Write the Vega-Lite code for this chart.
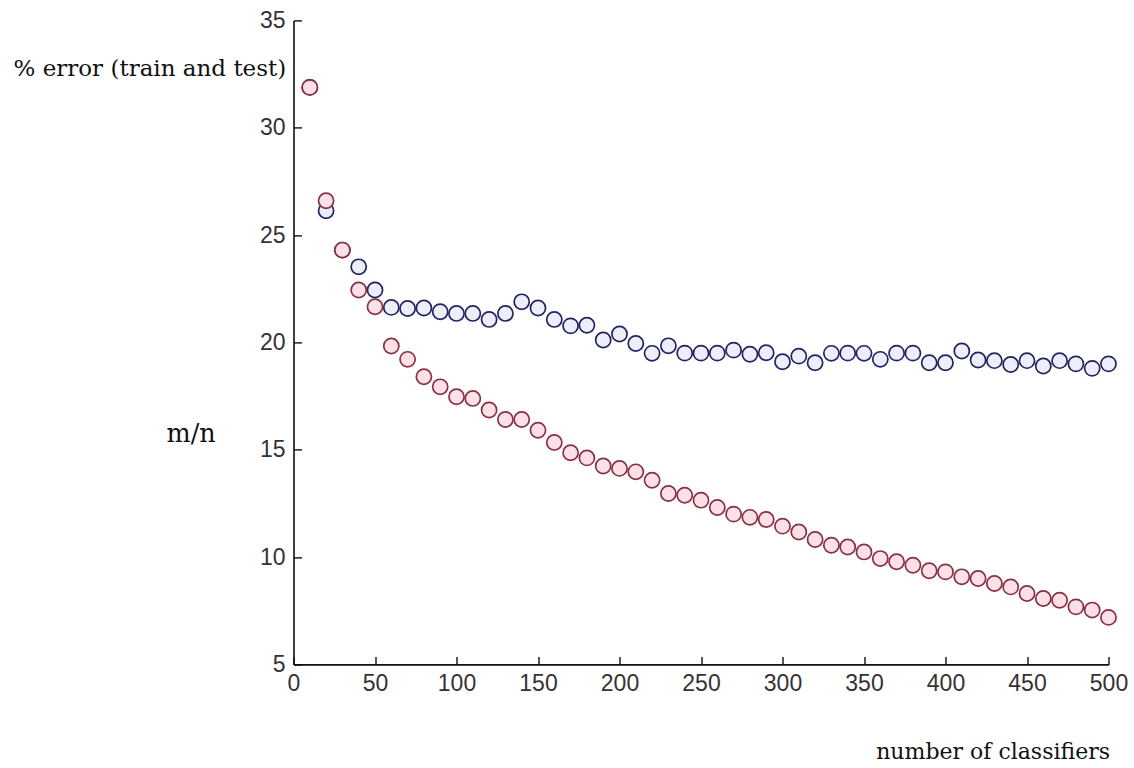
{
  "$schema": "https://vega.github.io/schema/vega-lite/v6.json",
  "autosize": "none",
  "width": 815,
  "height": 644,
  "padding": {"left": 293.5, "top": 20.4, "right": 25.5, "bottom": 103.6},
  "background": "white",
  "config": {
    "view": {"stroke": null},
    "axis": {"grid": false}
  },
  "data": {
    "values": [
      {"n": 10, "series": "test", "err": 31.88},
      {"n": 20, "series": "test", "err": 26.13},
      {"n": 30, "series": "test", "err": 24.3},
      {"n": 40, "series": "test", "err": 23.52},
      {"n": 50, "series": "test", "err": 22.44},
      {"n": 60, "series": "test", "err": 21.63},
      {"n": 70, "series": "test", "err": 21.58},
      {"n": 80, "series": "test", "err": 21.6},
      {"n": 90, "series": "test", "err": 21.43},
      {"n": 100, "series": "test", "err": 21.35},
      {"n": 110, "series": "test", "err": 21.35},
      {"n": 120, "series": "test", "err": 21.07},
      {"n": 130, "series": "test", "err": 21.35},
      {"n": 140, "series": "test", "err": 21.89},
      {"n": 150, "series": "test", "err": 21.6},
      {"n": 160, "series": "test", "err": 21.07},
      {"n": 170, "series": "test", "err": 20.77},
      {"n": 180, "series": "test", "err": 20.8},
      {"n": 190, "series": "test", "err": 20.11},
      {"n": 200, "series": "test", "err": 20.39},
      {"n": 210, "series": "test", "err": 19.95},
      {"n": 220, "series": "test", "err": 19.49},
      {"n": 230, "series": "test", "err": 19.84},
      {"n": 240, "series": "test", "err": 19.5},
      {"n": 250, "series": "test", "err": 19.5},
      {"n": 260, "series": "test", "err": 19.5},
      {"n": 270, "series": "test", "err": 19.64},
      {"n": 280, "series": "test", "err": 19.45},
      {"n": 290, "series": "test", "err": 19.52},
      {"n": 300, "series": "test", "err": 19.1},
      {"n": 310, "series": "test", "err": 19.36},
      {"n": 320, "series": "test", "err": 19.05},
      {"n": 330, "series": "test", "err": 19.49},
      {"n": 340, "series": "test", "err": 19.5},
      {"n": 350, "series": "test", "err": 19.49},
      {"n": 360, "series": "test", "err": 19.21},
      {"n": 370, "series": "test", "err": 19.5},
      {"n": 380, "series": "test", "err": 19.5},
      {"n": 390, "series": "test", "err": 19.05},
      {"n": 400, "series": "test", "err": 19.05},
      {"n": 410, "series": "test", "err": 19.6},
      {"n": 420, "series": "test", "err": 19.18},
      {"n": 430, "series": "test", "err": 19.15},
      {"n": 440, "series": "test", "err": 18.97},
      {"n": 450, "series": "test", "err": 19.15},
      {"n": 460, "series": "test", "err": 18.9},
      {"n": 470, "series": "test", "err": 19.15},
      {"n": 480, "series": "test", "err": 19.0},
      {"n": 490, "series": "test", "err": 18.79},
      {"n": 500, "series": "test", "err": 19.0},
      {"n": 10, "series": "train", "err": 31.88},
      {"n": 20, "series": "train", "err": 26.6},
      {"n": 30, "series": "train", "err": 24.3},
      {"n": 40, "series": "train", "err": 22.44},
      {"n": 50, "series": "train", "err": 21.66},
      {"n": 60, "series": "train", "err": 19.83},
      {"n": 70, "series": "train", "err": 19.21},
      {"n": 80, "series": "train", "err": 18.4},
      {"n": 90, "series": "train", "err": 17.93},
      {"n": 100, "series": "train", "err": 17.47},
      {"n": 110, "series": "train", "err": 17.39},
      {"n": 120, "series": "train", "err": 16.85},
      {"n": 130, "series": "train", "err": 16.41},
      {"n": 140, "series": "train", "err": 16.41},
      {"n": 150, "series": "train", "err": 15.91},
      {"n": 160, "series": "train", "err": 15.34},
      {"n": 170, "series": "train", "err": 14.86},
      {"n": 180, "series": "train", "err": 14.62},
      {"n": 190, "series": "train", "err": 14.24},
      {"n": 200, "series": "train", "err": 14.13},
      {"n": 210, "series": "train", "err": 13.97},
      {"n": 220, "series": "train", "err": 13.58},
      {"n": 230, "series": "train", "err": 12.96},
      {"n": 240, "series": "train", "err": 12.88},
      {"n": 250, "series": "train", "err": 12.65},
      {"n": 260, "series": "train", "err": 12.31},
      {"n": 270, "series": "train", "err": 12.0},
      {"n": 280, "series": "train", "err": 11.85},
      {"n": 290, "series": "train", "err": 11.75},
      {"n": 300, "series": "train", "err": 11.44},
      {"n": 310, "series": "train", "err": 11.17},
      {"n": 320, "series": "train", "err": 10.82},
      {"n": 330, "series": "train", "err": 10.55},
      {"n": 340, "series": "train", "err": 10.47},
      {"n": 350, "series": "train", "err": 10.24},
      {"n": 360, "series": "train", "err": 9.93},
      {"n": 370, "series": "train", "err": 9.78},
      {"n": 380, "series": "train", "err": 9.62},
      {"n": 390, "series": "train", "err": 9.36},
      {"n": 400, "series": "train", "err": 9.31},
      {"n": 410, "series": "train", "err": 9.08},
      {"n": 420, "series": "train", "err": 9.0},
      {"n": 430, "series": "train", "err": 8.77},
      {"n": 440, "series": "train", "err": 8.61},
      {"n": 450, "series": "train", "err": 8.3},
      {"n": 460, "series": "train", "err": 8.07},
      {"n": 470, "series": "train", "err": 7.99},
      {"n": 480, "series": "train", "err": 7.68},
      {"n": 490, "series": "train", "err": 7.53},
      {"n": 500, "series": "train", "err": 7.19}
    ]
  },
  "resolve": {"axis": {"x": "independent"}},
  "layer": [
    {
      "transform": [{"filter": "datum.series === 'test'"}],
      "mark": {"type": "point", "shape": "circle", "size": 230, "strokeWidth": 1.7, "filled": false, "stroke": "#25235f", "fill": "#eceefa", "opacity": 1, "fillOpacity": 1},
      "encoding": {
        "x": {
          "field": "n",
          "type": "quantitative",
          "scale": {"domain": [0, 500], "nice": false, "zero": false},
          "axis": {
            "orient": "bottom",
            "values": [0, 50, 100, 150, 200, 250, 300, 350, 400, 450, 500],
            "title": "number of classifiers",
            "titleFont": "DejaVu Serif",
            "titleFontSize": 22,
            "titleFontWeight": "normal",
            "titleColor": "#111",
            "titleAlign": "right",
            "titleBaseline": "alphabetic",
            "titleAnchor": null,
            "titleX": 816,
            "titleY": 94,
            "domainColor": "#111",
            "domainWidth": 1.6,
            "tickColor": "#111",
            "tickWidth": 1.4,
            "tickSize": -8,
            "labelPadding": 16,
            "labelFont": "Liberation Sans",
            "labelFontSize": 23,
            "labelColor": "#333",
            "labelFlush": false,
            "labelOverlap": false
          }
        },
        "y": {
          "field": "err",
          "type": "quantitative",
          "scale": {"domain": [5, 35], "nice": false, "zero": false},
          "axis": {
            "values": [5, 10, 15, 20, 25, 30, 35],
            "title": "% error (train and test)",
            "titleFont": "DejaVu Serif",
            "titleFontSize": 23,
            "titleFontWeight": "normal",
            "titleColor": "#111",
            "titleAngle": 0,
            "titleAlign": "left",
            "titleBaseline": "alphabetic",
            "titleAnchor": null,
            "titleX": -280.5,
            "titleY": 54.6,
            "domainColor": "#111",
            "domainWidth": 1.6,
            "tickColor": "#111",
            "tickWidth": 1.4,
            "tickSize": -8,
            "labelPadding": 16.5,
            "labelFont": "Liberation Sans",
            "labelFontSize": 23,
            "labelColor": "#333",
            "labelFlush": false,
            "labelOverlap": false
          }
        }
      }
    },
    {
      "transform": [{"filter": "datum.series === 'train'"}],
      "mark": {"type": "point", "shape": "circle", "size": 230, "strokeWidth": 1.7, "filled": false, "stroke": "#8a3045", "fill": "#fbe1e7", "opacity": 1, "fillOpacity": 1},
      "encoding": {
        "x": {
          "field": "n",
          "type": "quantitative",
          "scale": {"domain": [0, 500], "nice": false, "zero": false},
          "axis": {
            "orient": "top",
            "title": "m/n",
            "titleFont": "DejaVu Serif",
            "titleFontSize": 25.5,
            "titleFontWeight": "normal",
            "titleColor": "#111",
            "titleAngle": 0,
            "titleAlign": "left",
            "titleBaseline": "alphabetic",
            "titleAnchor": null,
            "titleX": -127.5,
            "titleY": 420.6,
            "domain": false,
            "ticks": false,
            "labels": false
          }
        },
        "y": {
          "field": "err",
          "type": "quantitative",
          "scale": {"domain": [5, 35], "nice": false, "zero": false},
          "axis": {
            "values": [5, 10, 15, 20, 25, 30, 35],
            "title": "% error (train and test)",
            "titleFont": "DejaVu Serif",
            "titleFontSize": 23,
            "titleFontWeight": "normal",
            "titleColor": "#111",
            "titleAngle": 0,
            "titleAlign": "left",
            "titleBaseline": "alphabetic",
            "titleAnchor": null,
            "titleX": -280.5,
            "titleY": 54.6,
            "domainColor": "#111",
            "domainWidth": 1.6,
            "tickColor": "#111",
            "tickWidth": 1.4,
            "tickSize": -8,
            "labelPadding": 16.5,
            "labelFont": "Liberation Sans",
            "labelFontSize": 23,
            "labelColor": "#333",
            "labelFlush": false,
            "labelOverlap": false
          }
        }
      }
    }
  ]
}
